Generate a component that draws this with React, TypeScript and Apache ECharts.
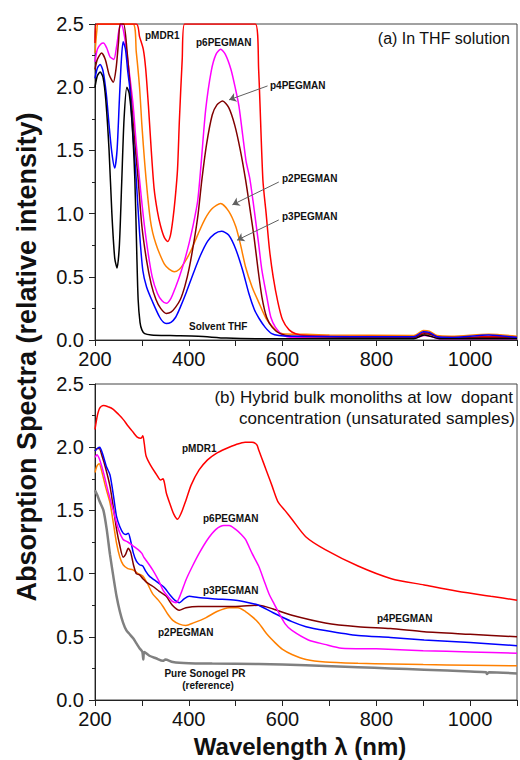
import React, { useEffect, useRef } from "react";
import * as echarts from "echarts";

// ---------- Panel (a): in THF solution ----------
const thfSolvent: number[][] = [
  [200, 2.0], [205, 2.09], [211, 2.12], [217, 2.08], [223, 1.9], [230, 1.5], [236, 1.0], [242, 0.65], [247, 0.57],
  [252, 0.75], [257, 1.25], [262, 1.75], [268, 2.0], [273, 1.95], [279, 1.72], [285, 1.27], [289, 0.7], [292, 0.32],
  [296, 0.14], [300, 0.08], [306, 0.05], [320, 0.04], [360, 0.035], [420, 0.03], [480, 0.015], [550, 0.01],
  [880, 0.01], [902, 0.04], [915, 0.03], [935, 0.01], [1100, 0.01],
];
const thfPMDR1: number[][] = [
  [200, 2.35], [203, 2.5], [288, 2.5], [295, 2.4], [303, 2.3], [308, 2.15], [314, 1.85], [320, 1.5], [326, 1.2],
  [333, 1.02], [340, 0.9], [348, 0.81], [355, 0.78], [361, 0.83], [366, 0.95], [371, 1.12], [376, 1.35], [380, 1.74],
  [386, 2.22], [391, 2.5], [542, 2.5], [549, 2.14], [558, 1.27], [565, 1.0], [572, 0.72], [580, 0.5], [590, 0.3],
  [600, 0.16], [614, 0.08], [628, 0.05], [650, 0.035], [700, 0.03], [880, 0.025], [902, 0.06], [915, 0.05],
  [935, 0.02], [1000, 0.02], [1045, 0.03], [1100, 0.02],
];
const thfP6: number[][] = [
  [200, 2.2], [205, 2.3], [212, 2.34], [218, 2.35], [225, 2.31], [232, 2.24], [240, 2.22], [246, 2.32], [251, 2.45],
  [256, 2.5], [263, 2.4], [272, 2.15], [281, 1.87], [288, 1.55], [295, 1.27], [303, 0.98], [312, 0.72], [322, 0.5],
  [333, 0.37], [343, 0.31], [352, 0.29], [362, 0.33], [372, 0.42], [380, 0.5], [391, 0.63], [401, 0.77], [410, 0.92],
  [419, 1.1], [426, 1.38], [436, 1.82], [448, 2.13], [458, 2.26], [468, 2.3], [478, 2.26], [490, 2.14], [500, 1.98],
  [507, 1.85], [515, 1.62], [522, 1.42], [530, 1.28], [537, 1.1], [543, 0.93], [549, 0.76], [556, 0.55],
  [567, 0.33], [575, 0.18], [585, 0.1], [600, 0.04], [620, 0.02], [880, 0.015], [903, 0.035], [915, 0.03],
  [935, 0.01], [1100, 0.01],
];
const thfP4: number[][] = [
  [200, 2.14], [205, 2.22], [214, 2.27], [222, 2.22], [230, 2.1], [239, 2.04], [245, 2.15], [250, 2.35], [254, 2.5],
  [261, 2.5], [268, 2.3], [278, 1.87], [285, 1.55], [292, 1.27], [300, 0.9], [310, 0.63], [320, 0.44], [330, 0.32],
  [340, 0.25], [352, 0.21], [362, 0.22], [372, 0.26], [382, 0.32], [392, 0.43], [401, 0.57], [412, 0.8], [420, 1.0],
  [428, 1.27], [438, 1.55], [450, 1.78], [460, 1.86], [472, 1.89], [485, 1.84], [498, 1.7], [510, 1.5], [521, 1.27],
  [530, 1.05], [539, 0.82], [548, 0.55], [556, 0.34], [566, 0.18], [578, 0.1], [595, 0.05], [620, 0.03],
  [880, 0.02], [902, 0.05], [915, 0.045], [935, 0.02], [1100, 0.02],
];
const thfP2: number[][] = [
  [200, 2.27], [204, 2.45], [207, 2.5], [281, 2.5], [288, 2.28], [295, 2.0], [300, 1.7], [306, 1.4], [312, 1.15],
  [318, 0.95], [323, 0.85], [330, 0.76], [338, 0.68], [348, 0.6], [358, 0.56], [369, 0.54], [380, 0.56], [392, 0.62],
  [405, 0.71], [420, 0.84], [435, 0.96], [450, 1.04], [468, 1.08], [485, 1.02], [500, 0.9], [510, 0.76], [521, 0.58],
  [535, 0.42], [549, 0.3], [565, 0.17], [585, 0.08], [600, 0.05], [650, 0.045], [700, 0.04], [880, 0.035],
  [900, 0.075], [913, 0.07], [930, 0.035], [960, 0.03], [1040, 0.045], [1100, 0.03],
];
const thfP3: number[][] = [
  [200, 2.07], [205, 2.15], [211, 2.18], [217, 2.13], [224, 1.95], [230, 1.7], [236, 1.48], [242, 1.36], [247, 1.5],
  [252, 1.9], [256, 2.2], [260, 2.36], [265, 2.3], [270, 2.12], [274, 2.0], [281, 1.62], [288, 1.27], [295, 0.85],
  [302, 0.55], [310, 0.42], [323, 0.3], [338, 0.18], [346, 0.14], [352, 0.13], [362, 0.14], [372, 0.18],
  [382, 0.26], [395, 0.38], [410, 0.53], [425, 0.67], [440, 0.78], [455, 0.84], [470, 0.86], [485, 0.83],
  [500, 0.72], [515, 0.55], [528, 0.37], [540, 0.24], [550, 0.17], [563, 0.1], [577, 0.05], [592, 0.035],
  [620, 0.03], [880, 0.025], [900, 0.065], [913, 0.06], [930, 0.025], [960, 0.02], [1040, 0.04], [1100, 0.02],
];

// ---------- Panel (b): hybrid bulk monoliths ----------
const bulkPMDR1: number[][] = [
  [200, 2.14], [205, 2.25], [210, 2.31], [218, 2.33], [228, 2.32], [239, 2.3], [250, 2.26], [260, 2.22], [270, 2.17],
  [281, 2.12], [290, 2.08], [298, 2.07], [302, 2.09], [305, 2.03], [309, 1.93], [318, 1.86], [330, 1.79],
  [340, 1.74], [345, 1.75], [348, 1.72], [352, 1.64], [360, 1.55], [368, 1.47], [376, 1.43], [384, 1.48],
  [394, 1.58], [405, 1.7], [422, 1.82], [440, 1.9], [458, 1.95], [480, 1.99], [500, 2.02], [520, 2.04],
  [535, 2.04], [545, 2.02], [549, 1.98], [560, 1.87], [570, 1.77], [578, 1.69], [590, 1.57], [605, 1.5],
  [620, 1.43], [650, 1.29], [691, 1.19], [761, 1.06], [832, 0.96], [902, 0.91], [973, 0.86], [1044, 0.82],
  [1100, 0.79],
];
const bulkP6: number[][] = [
  [200, 1.92], [204, 1.94], [210, 1.9], [218, 1.8], [228, 1.65], [239, 1.5], [250, 1.35], [260, 1.27], [270, 1.25],
  [281, 1.22], [292, 1.19], [300, 1.16], [304, 1.13], [310, 1.1], [323, 1.03], [335, 0.95], [345, 0.87],
  [355, 0.82], [365, 0.78], [373, 0.77], [383, 0.84], [394, 0.95], [408, 1.06], [422, 1.16], [440, 1.27],
  [458, 1.35], [475, 1.38], [486, 1.38], [500, 1.35], [512, 1.31], [521, 1.27], [535, 1.16], [549, 1.06],
  [560, 0.95], [571, 0.84], [582, 0.76], [592, 0.69], [606, 0.6], [620, 0.55], [655, 0.475], [690, 0.44],
  [726, 0.41], [800, 0.405], [900, 0.39], [1000, 0.38], [1100, 0.37],
];
const bulkP3: number[][] = [
  [200, 1.97], [205, 1.99], [210, 2.0], [216, 1.95], [224, 1.85], [232, 1.78], [240, 1.6], [246, 1.45], [253, 1.37],
  [260, 1.32], [266, 1.31], [271, 1.32], [276, 1.26], [282, 1.16], [288, 1.1], [295, 1.07], [302, 1.06],
  [308, 1.02], [316, 0.98], [330, 0.94], [345, 0.9], [350, 0.88], [360, 0.83], [370, 0.79], [380, 0.77],
  [390, 0.8], [401, 0.82], [420, 0.81], [458, 0.8], [500, 0.79], [528, 0.77], [549, 0.75], [580, 0.69],
  [620, 0.62], [650, 0.58], [691, 0.55], [761, 0.51], [830, 0.495], [902, 0.475], [1000, 0.455], [1100, 0.43],
];
const bulkP4: number[][] = [
  [200, 1.97], [205, 1.99], [209, 1.99], [215, 1.93], [223, 1.83], [232, 1.69], [240, 1.5], [246, 1.35],
  [253, 1.22], [260, 1.13], [265, 1.15], [271, 1.2], [276, 1.17], [282, 1.07], [288, 1.0], [295, 0.99],
  [302, 0.96], [310, 0.93], [323, 0.9], [337, 0.86], [352, 0.82], [365, 0.75], [380, 0.71], [394, 0.73],
  [420, 0.74], [458, 0.74], [500, 0.74], [549, 0.75], [580, 0.72], [620, 0.67], [691, 0.61], [761, 0.58],
  [830, 0.565], [902, 0.54], [1000, 0.52], [1100, 0.5],
];
const bulkP2: number[][] = [
  [200, 1.8], [204, 1.85], [209, 1.87], [215, 1.8], [223, 1.68], [232, 1.56], [240, 1.38], [246, 1.24], [253, 1.13],
  [260, 1.07], [270, 1.04], [281, 1.03], [292, 1.0], [302, 0.98], [312, 0.92], [323, 0.84], [335, 0.79],
  [345, 0.74], [355, 0.68], [366, 0.63], [380, 0.6], [394, 0.59], [410, 0.61], [436, 0.65], [460, 0.7],
  [486, 0.73], [505, 0.73], [521, 0.7], [535, 0.66], [549, 0.61], [567, 0.52], [585, 0.45], [600, 0.4],
  [620, 0.36], [650, 0.32], [691, 0.3], [761, 0.29], [832, 0.285], [900, 0.28], [1000, 0.275], [1100, 0.27],
];
const bulkReference: number[][] = [
  [200, 1.66], [205, 1.62], [210, 1.57], [218, 1.5], [225, 1.35], [232, 1.15], [239, 0.98], [246, 0.82], [253, 0.7],
  [260, 0.61], [267, 0.55], [274, 0.52], [281, 0.49], [288, 0.45], [295, 0.41], [301, 0.38], [303, 0.32],
  [305, 0.38], [316, 0.35], [330, 0.33], [345, 0.31], [350, 0.32], [366, 0.3], [400, 0.29], [450, 0.288],
  [549, 0.285], [650, 0.275], [761, 0.26], [830, 0.25], [902, 0.24], [1000, 0.225], [1034, 0.22], [1036, 0.205],
  [1040, 0.22], [1100, 0.21],
];

// arrows in panel (a): [from, to] in data units
const arrowsA: number[][][] = [
  [[568, 2.01], [486, 1.9]],
  [[592, 1.25], [493, 1.07]],
  [[592, 0.95], [503, 0.79]],
];

const xTicks = [200, 400, 600, 800, 1000];
const FONT = "'Liberation Sans', Arial, Helvetica, sans-serif";

const COLORS = {
  red: "#ff0000",
  magenta: "#ff00ff",
  brown: "#800000",
  orange: "#ff8000",
  blue: "#0000ff",
  black: "#000000",
  gray: "#808080",
};

function xAxis(gridIndex: number) {
  return {
    type: "value",
    gridIndex,
    min: 200,
    max: 1100,
    interval: 100,
    axisLine: { show: true, onZero: false, lineStyle: { color: "#222", width: 1 } },
    axisTick: { show: true, inside: false, length: 6, lineStyle: { color: "#222" } },
    axisLabel: {
      formatter: (v: number) => (xTicks.indexOf(v) >= 0 ? String(v) : ""),
      fontSize: 20,
      color: "#111",
      fontFamily: FONT,
      margin: 9,
    },
    splitLine: { show: false },
  };
}
function yAxis(gridIndex: number) {
  return {
    type: "value",
    gridIndex,
    min: 0,
    max: 2.5,
    interval: 0.5,
    axisLine: { show: true, onZero: false, lineStyle: { color: "#222", width: 1 } },
    axisTick: { show: true, inside: false, length: 6, lineStyle: { color: "#222" } },
    minorTick: { show: true, splitNumber: 2, length: 3, lineStyle: { color: "#222" } },
    axisLabel: {
      formatter: (v: number) => v.toFixed(1),
      fontSize: 20,
      color: "#111",
      fontFamily: FONT,
      margin: 11,
    },
    splitLine: { show: false },
  };
}

function line(idx: number, data: number[][], color: string, width = 1.5, extra: any = {}) {
  return {
    type: "line",
    xAxisIndex: idx,
    yAxisIndex: idx,
    data,
    showSymbol: false,
    symbol: "none",
    smooth: 0.25,
    clip: true,
    lineStyle: { color, width },
    itemStyle: { color },
    emphasis: { disabled: true },
    ...extra,
  };
}

function txt(text: string, x: number, y: number, size = 10, bold = true, align = "left") {
  return {
    type: "text",
    x,
    y,
    silent: true,
    style: {
      text,
      font: `${bold ? "bold " : ""}${size}px ${FONT}`,
      fill: "#111",
      textAlign: align,
      textVerticalAlign: "middle",
    },
  };
}

export default function App() {
  const ref = useRef<HTMLDivElement>(null);
  useEffect(() => {
    if (!ref.current) return;
    const chart = echarts.init(ref.current, null, { renderer: "svg" });
    const option: any = {
      animation: false,
      backgroundColor: "#ffffff",
      grid: [
        { left: 95, top: 24, width: 425, height: 316, show: true, borderColor: "#444", borderWidth: 1 },
        { left: 95, top: 384, width: 425, height: 316, show: true, borderColor: "#444", borderWidth: 1 },
      ],
      xAxis: [xAxis(0), xAxis(1)],
      yAxis: [yAxis(0), yAxis(1)],
      series: [
        line(0, thfP2, COLORS.orange),
        line(0, thfPMDR1, COLORS.red),
        line(0, thfP6, COLORS.magenta),
        line(0, thfP4, COLORS.brown),
        line(0, thfP3, COLORS.blue),
        line(0, thfSolvent, COLORS.black, 1.5, {
          markLine: {
            silent: true,
            symbol: ["none", "arrow"],
            symbolSize: 7,
            label: { show: false },
            lineStyle: { color: "#606060", width: 1, type: "solid" },
            data: arrowsA.map((a) => [{ coord: a[0] }, { coord: a[1] }]),
          },
        }),
        line(1, bulkReference, COLORS.gray, 2.5),
        line(1, bulkP2, COLORS.orange),
        line(1, bulkP4, COLORS.brown),
        line(1, bulkP3, COLORS.blue),
        line(1, bulkP6, COLORS.magenta),
        line(1, bulkPMDR1, COLORS.red),
      ],
      graphic: [
        txt("(a) In THF solution", 510, 38, 16, false, "right"),
        txt("pMDR1", 145, 35),
        txt("p6PEGMAN", 196, 42),
        txt("p4PEGMAN", 270, 85),
        txt("p2PEGMAN", 282, 178),
        txt("p3PEGMAN", 282, 216),
        txt("Solvent THF", 189, 326),
        txt("(b) Hybrid bulk monoliths at low  dopant", 513, 397, 17, false, "right"),
        txt("concentration (unsaturated samples)", 515, 418, 17, false, "right"),
        txt("pMDR1", 182, 448),
        txt("p6PEGMAN", 203, 518),
        txt("p3PEGMAN", 203, 590),
        txt("p2PEGMAN", 158, 632),
        txt("p4PEGMAN", 377, 618),
        txt("Pure Sonogel PR", 205, 673, 10, true, "center"),
        txt("(reference)", 208, 685, 10, true, "center"),
        txt("Wavelength λ (nm)", 300, 746, 24, true, "center"),
        {
          type: "text",
          x: 27,
          y: 357,
          rotation: Math.PI / 2,
          silent: true,
          style: {
            text: "Absorption Spectra (relative intensity)",
            font: `bold 27px ${FONT}`,
            fill: "#111",
            textAlign: "center",
            textVerticalAlign: "middle",
          },
        },
      ],
    };
    chart.setOption(option);
    return () => chart.dispose();
  }, []);
  return (
    <div
      ref={ref}
      style={{ position: "absolute", left: 0, top: 0, width: 520, height: 760, background: "#fff" }}
    />
  );
}
